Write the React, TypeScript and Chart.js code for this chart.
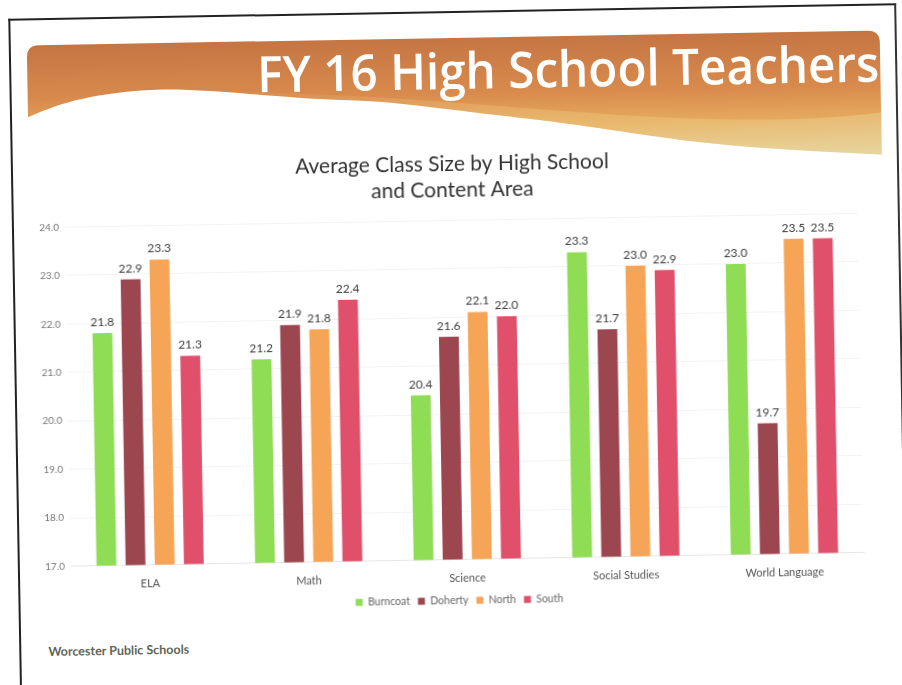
import React, { useEffect, useRef } from "react";
import { Chart, registerables } from "chart.js";

Chart.register(...registerables);

const categories = ["ELA", "Math", "Science", "Social Studies", "World Language"];
const schools = ["Burncoat", "Doherty", "North", "South"];
const burncoat = [21.8, 21.2, 20.4, 23.3, 23.0];
const doherty = [22.9, 21.9, 21.6, 21.7, 19.7];
const north = [23.3, 21.8, 22.1, 23.0, 23.5];
const south = [21.3, 22.4, 22.0, 22.9, 23.5];
const seriesValues = [burncoat, doherty, north, south];
const seriesColors = ["#8fdc55", "#9c4650", "#f6a455", "#e0506b"];
const yMin = 17;
const yMax = 24;
const yStep = 1;
const chartTitle = ["Average Class Size by High School", "and Content Area"];
const slideTitle = "FY 16 High School Teachers";
const footer = "Worcester Public Schools";

const valueLabels = {
  id: "valueLabels",
  afterDatasetsDraw(chart: any) {
    const ctx = chart.ctx;
    ctx.save();
    ctx.font = "12px Lato";
    ctx.fillStyle = "#3c3c3c";
    ctx.textAlign = "center";
    ctx.textBaseline = "bottom";
    chart.data.datasets.forEach((ds: any, i: number) => {
      const meta = chart.getDatasetMeta(i);
      meta.data.forEach((bar: any, j: number) => {
        ctx.fillText(Number(ds.data[j]).toFixed(1), bar.x, bar.y - 5);
      });
    });
    ctx.restore();
  },
};

function BarChart() {
  const ref = useRef<HTMLCanvasElement | null>(null);
  useEffect(() => {
    if (!ref.current) return;
    const chart = new Chart(ref.current, {
      type: "bar",
      data: {
        labels: categories,
        datasets: schools.map((s, i) => ({
          label: s,
          data: seriesValues[i],
          backgroundColor: seriesColors[i],
          borderWidth: 0,
          barPercentage: 0.68,
          categoryPercentage: 0.735,
        })),
      },
      options: {
        animation: false,
        responsive: true,
        maintainAspectRatio: false,
        layout: { padding: 0 },
        plugins: {
          title: {
            display: true,
            text: chartTitle,
            color: "#333",
            font: { family: "Lato", size: 21, weight: "normal", lineHeight: 1.25 },
            padding: { top: 11, bottom: 17 },
          },
          legend: {
            position: "bottom",
            labels: {
              boxWidth: 7,
              boxHeight: 7,
              padding: 8,
              color: "#666",
              font: { family: "Lato", size: 10.5 },
            },
          },
          tooltip: { enabled: false },
        },
        scales: {
          x: {
            grid: { display: false, drawTicks: false },
            border: { display: true, color: "#e6e6e6" },
            ticks: { color: "#555", font: { family: "Lato", size: 11 }, padding: 12 },
            afterFit: (scale: any) => { scale.height = 28; },
          },
          y: {
            min: yMin,
            max: yMax,
            ticks: {
              stepSize: yStep,
              color: "#777",
              font: { family: "Lato", size: 10 },
              padding: 6,
              callback: (v: any) => Number(v).toFixed(1),
            },
            grid: { color: "#f3f3f3", drawTicks: false },
            border: { display: false },
            afterFit: (scale: any) => { scale.width = 47; },
          },
          yRightSpace: {
            position: "right",
            display: true,
            grid: { display: false, drawTicks: false },
            ticks: { display: false },
            border: { display: false },
            afterFit: (scale: any) => { scale.width = 30; },
          },
        },
      },
      plugins: [valueLabels],
    });
    return () => chart.destroy();
  }, []);
  return (
    <div style={{ position: "absolute", left: 20, top: 140, width: 870, height: 476 }}>
      <canvas ref={ref} />
    </div>
  );
}

export default function App() {
  return (
    <div style={{ position: "fixed", left: 0, top: 0, width: 902, height: 685, background: "#fff", overflow: "hidden" }}>
      <div
        style={{
          position: "absolute",
          left: 0,
          top: 0,
          width: 902,
          height: 685,
          transform: "rotate(-1deg)",
          transformOrigin: "451px 342px",
        }}
      >
        <div style={{ position: "absolute", left: 14, top: 11, width: 884, height: 700, borderLeft: "2px solid #222", borderTop: "2px solid #222", borderRight: "2px solid #333" }} />
        <svg width={902} height={175} style={{ position: "absolute", left: 0, top: 0 }}>
          <defs>
            <linearGradient id="bannerGrad" gradientUnits="userSpaceOnUse" x1="0" y1="38" x2="0" y2="162">
              <stop offset="0" stopColor="#c47543" />
              <stop offset="0.45" stopColor="#d98b4d" />
              <stop offset="0.72" stopColor="#e6ac5f" />
              <stop offset="1" stopColor="#e3d6a4" />
            </linearGradient>
            <linearGradient id="bandGrad" gradientUnits="userSpaceOnUse" x1="200" y1="0" x2="885" y2="0">
              <stop offset="0" stopColor="#f2cf86" stopOpacity="0" />
              <stop offset="0.5" stopColor="#f0cd84" stopOpacity="0.35" />
              <stop offset="1" stopColor="#ead49a" stopOpacity="0.45" />
            </linearGradient>
          </defs>
          <path
            d="M32,110 L32,50 Q32,38 44,38 L873,38 Q885,38 885,50 L885,162 C820,158 760,154 700,146 C640,138 590,127 517,118 C440,108 400,100 345,98 C280,95 200,82 150,85 C90,88 60,98 32,110 Z"
            fill="url(#bannerGrad)"
          />
          <path
            d="M230,88 C380,92 520,110 650,120 C760,128 830,126 885,120 L885,162 C820,158 760,154 700,146 C640,138 590,127 517,118 C440,108 400,100 345,98 C300,96 260,90 230,88 Z"
            fill="url(#bandGrad)"
          />
          <text
            x={262}
            y={89}
            textLength={622}
            lengthAdjust="spacingAndGlyphs"
            fill="#ffffff"
            style={{ fontFamily: "'Open Sans', sans-serif", fontWeight: 600, fontSize: 50 }}
          >
            {slideTitle}
          </text>
        </svg>
        <BarChart />
        <div
          style={{
            position: "absolute",
            left: 43,
            top: 637,
            fontFamily: "Lato, sans-serif",
            fontWeight: 700,
            fontSize: 12.5,
            color: "#5f6658",
            whiteSpace: "nowrap",
          }}
        >
          {footer}
        </div>
      </div>
    </div>
  );
}
